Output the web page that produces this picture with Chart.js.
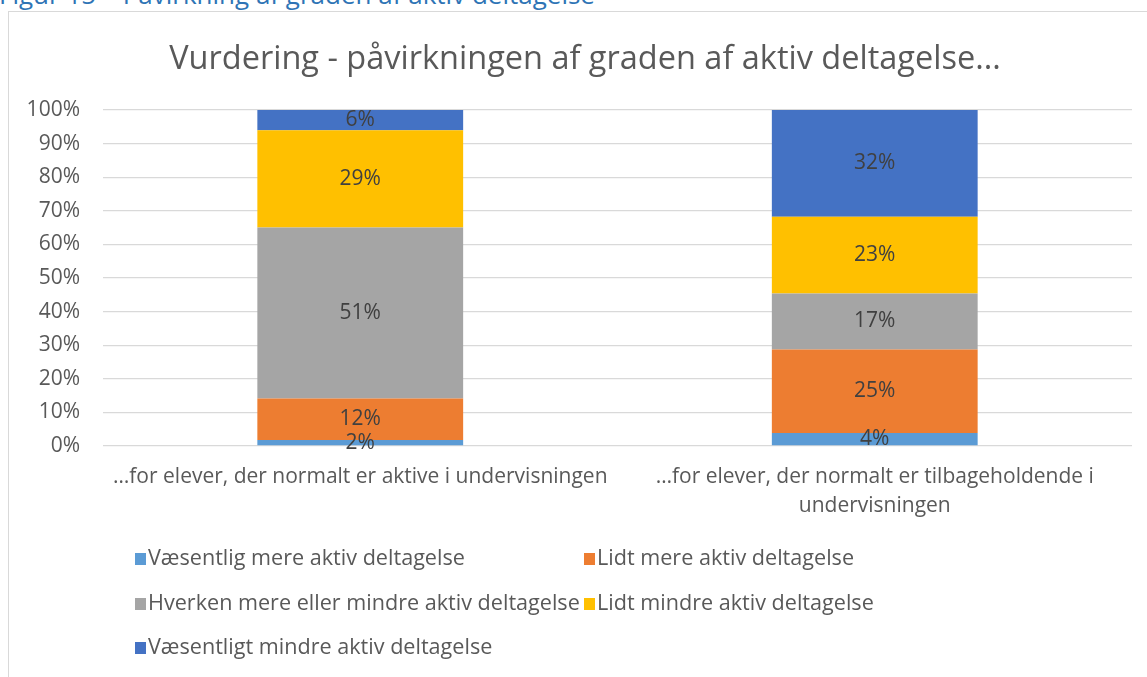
<!DOCTYPE html>
<html><head><meta charset="utf-8">
<script src="https://cdn.jsdelivr.net/npm/chart.js@4"></script>
<style>
html,body{margin:0;padding:0;background:#fff;width:1147px;height:677px;overflow:hidden;}
#caption{position:absolute;left:-1px;top:-24px;font:26px "Open Sans", sans-serif;color:#2E74B5;white-space:nowrap;}
#box{position:absolute;left:8px;top:11px;width:1160px;height:700px;border:1.5px solid #D9D9D9;box-sizing:border-box;}
#wrap{position:absolute;left:0;top:0;width:1147px;height:677px;}
</style></head><body>
<div id="caption">Figur 15 – Påvirkning af graden af aktiv deltagelse</div>
<div id="box"></div>
<div id="wrap"><canvas id="c"></canvas></div>
<script>
const chartTitle = 'Vurdering - påvirkningen af graden af aktiv deltagelse...';
const categories = [
  ['…for elever, der normalt er aktive i undervisningen'],
  ['…for elever, der normalt er tilbageholdende i', 'undervisningen']
];
const seriesNames = [
  'Væsentlig mere aktiv deltagelse',
  'Lidt mere aktiv deltagelse',
  'Hverken mere eller mindre aktiv deltagelse',
  'Lidt mindre aktiv deltagelse',
  'Væsentligt mindre aktiv deltagelse'
];
const seriesColors = ['#5B9BD5', '#ED7D31', '#A5A5A5', '#FFC000', '#4472C4'];
const vaesentligMere    = [1.8, 3.9];
const lidtMere          = [12.3, 24.8];
const hverken           = [50.9, 16.7];
const lidtMindre        = [29.0, 22.8];
const vaesentligtMindre = [6.0, 31.8];
const yTickValues = [0, 10, 20, 30, 40, 50, 60, 70, 80, 90, 100];

const seriesValues = [vaesentligMere, lidtMere, hverken, lidtMindre, vaesentligtMindre];
const FONT = '"Open Sans", sans-serif';
const TXT = '#595959';

const labelsPlugin = {
  id: 'segLabels',
  afterDatasetsDraw(chart) {
    const ctx = chart.ctx;
    ctx.save();
    ctx.font = '21px ' + FONT;
    ctx.fillStyle = '#404040';
    ctx.textAlign = 'center';
    ctx.textBaseline = 'middle';
    chart.data.datasets.forEach((ds, i) => {
      const meta = chart.getDatasetMeta(i);
      meta.data.forEach((el, j) => {
        const v = ds.data[j];
        ctx.fillText(Math.round(v) + '%', el.x, (el.y + el.base) / 2);
      });
    });
    ctx.restore();
  }
};

const decorPlugin = {
  id: 'decor',
  afterDraw(chart) {
    const ctx = chart.ctx;
    ctx.save();
    ctx.font = '32.5px ' + FONT;
    ctx.fillStyle = TXT;
    ctx.textAlign = 'center';
    ctx.textBaseline = 'middle';
    ctx.fillText(chartTitle, 585, 60);
    // legend
    const pos = [[135, 559], [584, 559], [135, 604], [584, 604], [135, 648]];
    ctx.font = '21.6px ' + FONT;
    ctx.textAlign = 'left';
    seriesNames.forEach((n, i) => {
      const [x, y] = pos[i];
      ctx.fillStyle = seriesColors[i];
      ctx.fillRect(x, y - 6, 11, 12);
      ctx.fillStyle = TXT;
      ctx.fillText(n, x + 13, y);
    });
    ctx.restore();
  }
};

new Chart(document.getElementById('c'), {
  type: 'bar',
  data: {
    labels: categories,
    datasets: seriesNames.map((n, i) => ({
      label: n,
      data: seriesValues[i],
      backgroundColor: seriesColors[i],
      borderWidth: 0,
      categoryPercentage: 1,
      barPercentage: 0.4
    }))
  },
  options: {
    responsive: true,
    maintainAspectRatio: false,
    animation: false,
    layout: { padding: { top: 110, right: 15, left: 0, bottom: 0 } },
    plugins: { legend: { display: false }, title: { display: false }, tooltip: { enabled: false } },
    scales: {
      x: {
        stacked: true,
        grid: { display: false, drawTicks: false },
        border: { display: false },
        ticks: { color: TXT, font: { family: FONT, size: 21, lineHeight: 1.36 }, padding: 17, maxRotation: 0, autoSkip: false },
        afterFit(s) { s.height = 231; }
      },
      y: {
        stacked: true,
        min: 0, max: 100,
        afterBuildTicks(s) { s.ticks = yTickValues.map(v => ({ value: v })); },
        grid: { color: '#D9D9D9', lineWidth: 1.3, drawTicks: false },
        border: { display: false },
        ticks: { color: TXT, font: { family: FONT, size: 21 }, padding: 23, callback: v => v + '%' },
        afterFit(s) { s.width = 103; }
      }
    }
  },
  plugins: [labelsPlugin, decorPlugin]
});
</script>
</body></html>
